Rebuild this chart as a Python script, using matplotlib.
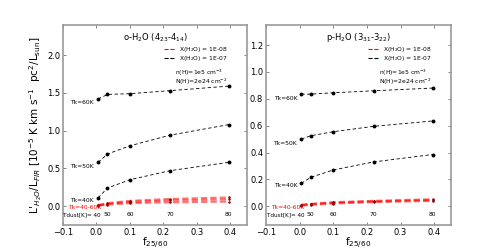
import matplotlib
matplotlib.use("Agg")
import matplotlib.pyplot as plt

# f25/60 colour at Tdust = 40, 50, 60, 70, 80 K
f2560 = [0.005, 0.033, 0.10, 0.22, 0.395]
tdust = ["40", "50", "60", "70", "80"]

# o-H2O (4_23-4_14), X(H2O) = 1E-07
o_tk60 = [1.42, 1.48, 1.49, 1.53, 1.59]
o_tk50 = [0.58, 0.69, 0.80, 0.94, 1.08]
o_tk40 = [0.11, 0.24, 0.35, 0.47, 0.58]
# o-H2O, X(H2O) = 1E-08, Tk = 40, 50, 60 K
o_low40 = [0.005, 0.02, 0.04, 0.05, 0.06]
o_low50 = [0.01, 0.03, 0.055, 0.075, 0.09]
o_low60 = [0.015, 0.04, 0.07, 0.095, 0.115]

# p-H2O (3_31-3_22), X(H2O) = 1E-07
p_tk60 = [0.835, 0.835, 0.845, 0.86, 0.88]
p_tk50 = [0.50, 0.525, 0.555, 0.595, 0.635]
p_tk40 = [0.17, 0.215, 0.27, 0.33, 0.385]
# p-H2O, X(H2O) = 1E-08
p_low40 = [0.004, 0.01, 0.02, 0.03, 0.04]
p_low50 = [0.008, 0.014, 0.026, 0.036, 0.046]
p_low60 = [0.012, 0.018, 0.03, 0.04, 0.052]

plt.rcParams['font.family'] = ['DejaVu Sans']
plt.rcParams['mathtext.fontset'] = 'dejavusans'

fig = plt.figure(figsize=(5, 2.5), dpi=100)
ax1 = fig.add_axes([0.126, 0.1, 0.368, 0.8])
ax2 = fig.add_axes([0.532, 0.1, 0.37, 0.8])

FS = 4.3


def panel(ax, hi, mid, lo, lows, title, ylim, yticks):
    span = ylim[1] - ylim[0]
    for vals in lows:
        ax.plot(f2560, vals, '--', color='red', lw=1.5, alpha=0.55, dashes=(3, 1.5))
        ax.plot(f2560, vals, 'o', color='darkred', ms=1.8, mec='none')
    for vals in [hi, mid, lo]:
        ax.plot(f2560, vals, '--', color='black', lw=0.6, dashes=(4, 3),
                marker='o', ms=1.8)
    ax.plot([], [], '--', color='red', lw=0.8, label='X(H$_2$O) = 1E-08')
    ax.plot([], [], '--', color='black', lw=0.8, label='X(H$_2$O) = 1E-07')
    ax.legend(loc='upper right', bbox_to_anchor=(0.92, 0.92), frameon=False,
              fontsize=FS, handlelength=1.7, labelspacing=0.0, borderpad=0.2,
              handletextpad=0.9)
    ax.text(0.61, 0.762, 'n(H)=1e5 cm$^{-3}$', transform=ax.transAxes,
            fontsize=FS, va='center')
    ax.text(0.61, 0.717, 'N(H)=2e24 cm$^{-2}$', transform=ax.transAxes,
            fontsize=FS, va='center')
    ax.text(0.5, 0.925, title, transform=ax.transAxes, fontsize=6, ha='center')

    x0 = f2560[0] - 0.012
    ax.text(x0, hi[0] - 0.02 * span, 'Tk=60K', fontsize=FS, ha='right', va='center')
    ax.text(x0, mid[0] - 0.02 * span, 'Tk=50K', fontsize=FS, ha='right', va='center')
    ax.text(x0, lo[0] - 0.012 * span, 'Tk=40K', fontsize=FS, ha='right', va='center')
    ax.text(x0 + 0.02, -0.006 * span, 'Tk=40-60K', fontsize=FS, ha='right',
            va='center', color='red')

    ty = ylim[0] + 0.05 * span
    for i, (xv, lab) in enumerate(zip(f2560, tdust)):
        if i == 0:
            ax.text(xv + 0.008, ty, 'Tdust[K]= ' + lab, fontsize=4.1, ha='right',
                    va='center')
        else:
            ax.text(xv, ty, lab, fontsize=FS, ha='center', va='center')

    ax.set_xlim(-0.1, 0.45)
    ax.set_ylim(*ylim)
    ax.set_xticks([-0.1, 0.0, 0.1, 0.2, 0.3, 0.4])
    ax.set_yticks(yticks)
    ax.tick_params(direction='in', top=True, right=True, labelsize=6,
                   length=2.5, width=0.5, color='#555555', pad=2)
    for sp in ax.spines.values():
        sp.set_color('#999999')
        sp.set_linewidth(1.2)
    ax.set_xlabel('f$_{25/60}$', fontsize=7.5, labelpad=-0.5)


panel(ax1, o_tk60, o_tk50, o_tk40, [o_low40, o_low50, o_low60],
      'o-H$_2$O (4$_{23}$-4$_{14}$)', (-0.25, 2.4), [0.0, 0.5, 1.0, 1.5, 2.0])
panel(ax2, p_tk60, p_tk50, p_tk40, [p_low40, p_low50, p_low60],
      'p-H$_2$O (3$_{31}$-3$_{22}$)', (-0.14, 1.35), [0.0, 0.2, 0.4, 0.6, 0.8, 1.0, 1.2])

ax1.set_ylabel("L'$_{H_2O}$/L$_{FIR}$ [10$^{-5}$ K km s$^{-1}$  pc$^2$/L$_{\\rm sun}$]",
               fontsize=7.5, labelpad=2)

fig.savefig('out.png', dpi=100)
